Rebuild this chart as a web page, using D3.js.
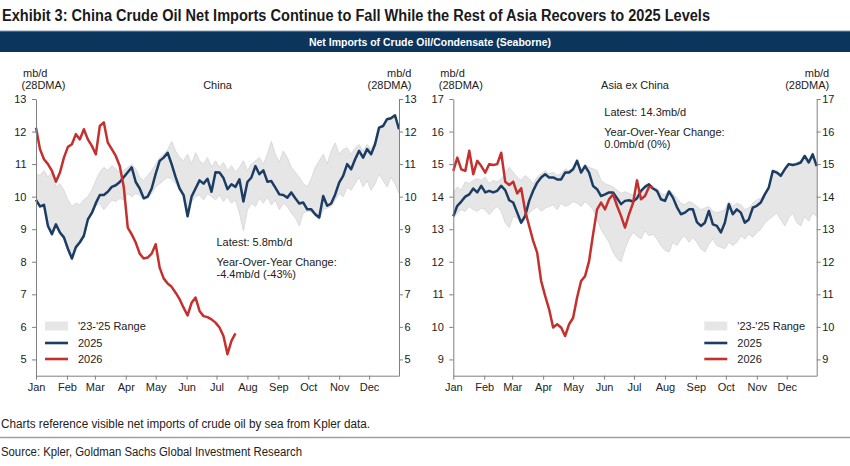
<!DOCTYPE html>
<html><head><meta charset="utf-8">
<script src="https://cdn.jsdelivr.net/npm/d3@7"></script>
<style>body{margin:0;background:#fff}svg{display:block}</style>
</head><body>
<svg id="c" width="850" height="466"></svg>
<script>
// ---------- DATA ----------
const STEP_DAYS = 4;             // sampling step of the series below (days from Jan 1)
const monthLabels = ["Jan","Feb","Mar","Apr","May","Jun","Jul","Aug","Sep","Oct","Nov","Dec"];
const chinaTicks = [5,6,7,8,9,10,11,12,13];
const asiaTicks = [9,10,11,12,13,14,15,16,17];

const china2025 = [9.9,9.7,9.75,9.1,8.85,9.15,8.9,8.75,8.4,8.1,
 8.45,8.6,8.8,9.3,9.5,9.8,10.05,10.05,10.15,10.3,
 10.35,10.45,10.6,10.75,10.9,10.45,10.25,9.95,10.0,10.25,
 10.7,11.1,11.2,11.35,11.0,10.6,10.25,10.05,9.4,10.0,
 10.25,10.5,10.4,10.55,10.15,10.75,10.74,10.57,10.23,10.38,
 10.3,10.53,9.85,10.45,10.59,10.94,10.69,10.81,10.46,10.48,
 10.28,10.07,10.05,9.97,10.13,9.95,9.79,9.82,9.61,9.61,
 9.46,9.36,10.02,9.72,9.79,10.07,10.43,10.64,11.0,10.84,
 11.15,11.41,11.2,11.46,11.3,11.61,12.12,12.17,12.38,12.41,
 12.5,12.07];
const china2026 = [12.12,11.46,11.15,11.0,10.79,10.46,10.74,11.2,11.53,11.61,
 11.92,11.76,12.07,11.76,11.56,11.3,12.17,12.28,11.66,11.46,
 11.25,10.94,10.3,9.05,8.84,8.59,8.25,8.1,8.13,8.25,
 8.54,7.82,7.49,7.33,7.23,7.05,6.85,6.59,6.35,6.74,
 6.9,6.49,6.33,6.3,6.23,6.13,5.98,5.72,5.16,5.57,5.8];
const chinaHigh = [10.7,10.65,10.8,10.6,10.75,10.3,10.4,10.2,9.9,9.7,
 9.8,9.75,9.9,10.0,10.2,10.5,10.75,10.9,10.8,10.95,
 10.85,10.75,10.8,10.9,11.0,10.85,10.6,10.5,10.65,10.8,
 11.0,11.2,11.3,11.45,11.7,11.4,11.2,11.1,11.3,11.0,
 11.35,11.1,11.0,11.2,10.9,11.1,10.9,11.05,10.8,10.95,
 10.75,10.9,11.1,10.8,11.0,11.1,11.2,11.0,11.3,11.7,
 11.3,11.05,11.4,11.2,10.9,10.75,10.6,10.4,10.3,10.55,
 10.9,11.1,11.3,11.0,11.4,11.65,11.3,11.45,11.5,11.3,
 11.5,11.6,11.4,11.6,11.45,11.7,12.15,12.2,12.4,12.45,
 12.5,12.1];
const chinaLow = [9.85,9.65,9.7,9.05,8.8,9.1,8.85,8.7,8.35,8.05,
 8.4,8.55,8.75,9.25,9.45,9.7,9.8,9.6,9.75,9.9,
 9.85,9.95,9.9,10.1,10.0,10.1,10.05,9.9,9.95,10.1,
 10.3,10.4,10.5,10.6,10.55,10.4,10.2,10.0,9.35,9.85,
 10.0,10.05,9.9,10.1,10.0,9.9,10.05,9.85,10.0,9.8,
 9.9,9.5,8.95,9.6,9.8,9.7,9.95,9.8,10.0,9.75,
 9.9,9.6,9.8,9.7,9.5,9.35,9.1,9.5,9.55,9.55,
 9.4,9.3,9.6,9.65,9.7,9.9,10.1,10.0,10.3,10.2,
 10.4,10.6,10.3,10.5,10.2,10.4,10.7,10.5,10.3,10.6,
 10.4,10.1];

const asia2025 = [13.4,13.72,13.85,14.0,14.07,14.25,14.13,14.33,14.13,14.18,
 14.13,14.18,14.33,14.2,13.89,13.82,13.51,13.2,13.41,13.87,
 14.18,14.43,14.59,14.69,14.59,14.59,14.53,14.53,14.74,14.74,
 14.84,15.1,14.74,14.94,14.74,14.33,14.23,14.02,14.07,14.13,
 14.13,13.95,13.77,13.87,13.89,13.85,13.95,14.18,14.3,14.38,
 14.25,14.18,13.92,13.87,14.16,13.97,13.68,13.46,13.51,13.61,
 13.61,13.22,13.1,13.2,13.56,13.15,13.1,12.9,13.2,13.77,
 13.46,13.61,13.51,13.2,13.3,13.66,13.72,13.82,14.07,14.28,
 14.79,14.74,14.64,14.84,15.0,14.97,15.0,15.05,15.25,15.05,
 15.3,14.94];
const asia2026 = [14.79,15.2,14.84,14.79,15.41,14.69,15.1,14.94,14.74,15.0,
 14.97,15.0,15.35,14.46,14.36,14.46,14.1,14.26,13.56,13.1,
 12.64,12.28,11.41,10.95,10.54,9.98,10.08,9.98,9.72,10.08,
 10.28,10.9,11.41,11.56,12.02,12.84,13.61,13.82,13.61,13.92,
 14.07,13.72,13.41,13.05,13.46,13.8,14.5,13.92,14.02,14.3,14.3];
const asiaHigh = [14.1,14.3,14.2,14.45,14.4,14.5,14.55,14.5,14.6,14.4,
 14.5,14.45,14.55,14.7,14.9,14.75,14.6,14.5,14.65,14.55,
 14.4,14.6,14.7,14.8,14.7,14.75,14.65,14.7,14.85,14.8,
 14.9,15.15,14.85,15.0,14.9,14.85,14.8,14.5,14.4,14.35,
 14.3,14.2,14.1,14.15,14.1,14.05,14.1,14.2,14.35,14.4,
 14.3,14.25,14.1,14.05,14.2,14.1,13.95,13.8,13.75,13.85,
 13.8,13.7,13.6,13.65,13.7,13.55,13.5,13.55,13.6,13.85,
 13.7,13.8,13.75,13.6,13.65,13.8,13.9,13.95,14.1,14.3,
 14.8,14.8,14.7,14.85,15.0,15.0,15.05,15.1,15.3,15.1,
 15.35,15.0];
const asiaLow = [13.35,13.5,13.6,13.55,13.7,13.6,13.55,13.65,13.6,13.45,
 13.6,13.7,13.55,13.2,13.05,13.4,13.35,13.15,13.3,13.5,
 13.6,13.7,13.55,13.65,13.7,13.75,13.6,13.8,13.7,13.75,
 13.85,13.8,13.7,13.85,13.75,13.6,13.3,13.0,12.8,12.6,
 12.3,12.1,12.0,12.4,12.7,12.9,12.8,12.7,12.95,12.8,
 12.85,12.7,12.5,12.35,12.3,12.6,12.5,12.7,12.8,12.6,
 12.75,12.6,12.4,12.3,12.55,12.7,12.5,12.45,12.4,12.6,
 12.5,12.6,12.8,12.7,12.85,12.75,12.9,13.0,13.2,13.3,
 13.4,13.5,13.3,13.1,13.35,13.5,13.2,13.1,13.4,13.25,
 13.5,13.4];

// ---------- DRAW ----------
const FONT = "'Liberation Sans', Arial, sans-serif";
const BLUE = "#1b3d63", RED = "#c4302e", BAND = "#e6e6e6", BAND_EDGE = "#dadada";
const jan1 = new Date(2025, 0, 1);
const dateAt = i => d3.timeDay.offset(jan1, i * STEP_DAYS);

const svg = d3.select("#c");
svg.append("rect").attr("width", 850).attr("height", 466).attr("fill", "#fff");

svg.append("text").attr("x", 2).attr("y", 21)
  .attr("font-family", FONT).attr("font-weight", "bold").attr("font-size", 16)
  .attr("fill", "#1a1a1a").attr("textLength", 708).attr("lengthAdjust", "spacingAndGlyphs")
  .text("Exhibit 3: China Crude Oil Net Imports Continue to Fall While the Rest of Asia Recovers to 2025 Levels");

svg.append("rect").attr("x", 0).attr("y", 31).attr("width", 850).attr("height", 21).attr("fill", "#0b355d");
svg.append("line").attr("x1", 0).attr("x2", 850).attr("y1", 31).attr("y2", 31).attr("stroke", "#8a9bb0").attr("stroke-width", 1);
svg.append("text").attr("x", 430).attr("y", 45.5).attr("text-anchor", "middle")
  .attr("font-family", FONT).attr("font-weight", "bold").attr("font-size", 10.5).attr("fill", "#fff")
  .text("Net Imports of Crude Oil/Condensate (Seaborne)");

function panel(o) {
  const g = svg.append("g");
  const x = d3.scaleTime().domain([jan1, new Date(2025, 11, 31)]).range([o.x0, o.x1]);
  const y = d3.scaleLinear().domain(o.yDomain).range([375.7, 99]);

  const band = o.low.map((lo, i) => ({ date: dateAt(i), lo, hi: o.high[i] }));
  g.append("path").datum(band).attr("fill", BAND)
    .attr("d", d3.area().x(d => x(d.date)).y0(d => y(d.lo)).y1(d => y(d.hi)));
  g.append("path").datum(band).attr("fill", "none").attr("stroke", BAND_EDGE).attr("stroke-width", 1)
    .attr("d", d3.line().x(d => x(d.date)).y(d => y(d.hi)));
  g.append("path").datum(band).attr("fill", "none").attr("stroke", BAND_EDGE).attr("stroke-width", 1)
    .attr("d", d3.line().x(d => x(d.date)).y(d => y(d.lo)));

  const line = d3.line().x(d => x(d.date)).y(d => y(d.v));
  g.append("path").datum(o.s2025.map((v, i) => ({ date: dateAt(i), v })))
    .attr("fill", "none").attr("stroke", BLUE).attr("stroke-width", 2.5).attr("stroke-linejoin", "round")
    .attr("d", line);
  g.append("path").datum(o.s2026.map((v, i) => ({ date: dateAt(i), v })))
    .attr("fill", "none").attr("stroke", RED).attr("stroke-width", 2.5).attr("stroke-linejoin", "round")
    .attr("d", line);

  // axes
  const months = d3.timeMonth.range(jan1, new Date(2026, 0, 1));
  const ax = g.append("g").attr("transform", "translate(0,375.7)")
    .call(d3.axisBottom(x).tickValues(months).tickFormat((d, i) => monthLabels[i]).tickSize(4).tickSizeOuter(0).tickPadding(4));
  const al = g.append("g").attr("transform", `translate(${o.x0},0)`)
    .call(d3.axisLeft(y).tickValues(o.ticks).tickSize(4).tickSizeOuter(0).tickPadding(5.5));
  const ar = g.append("g").attr("transform", `translate(${o.x1},0)`)
    .call(d3.axisRight(y).tickValues(o.ticks).tickSize(4).tickSizeOuter(0).tickPadding(1.5));
  [ax, al, ar].forEach(a => {
    a.selectAll("path,line").attr("stroke", "#808080").attr("stroke-width", 1);
    a.selectAll("text").attr("font-family", FONT).attr("font-size", 11).attr("fill", "#222");
  });

  const txt = (xx, yy, s, anchor) => g.append("text").attr("x", xx).attr("y", yy)
    .attr("font-family", FONT).attr("font-size", 11).attr("fill", "#222")
    .attr("text-anchor", anchor || "start").attr("dominant-baseline", "central").text(s);

  txt(o.x0 - 13, 72.7, "mb/d");
  txt(o.x0 - 14.5, 85, "(28DMA)");
  txt(o.x1 + 12.5, 72.7, "mb/d", "end");
  txt(o.x1 + 12.5, 85, "(28DMA)", "end");
  txt((o.x0 + o.x1) / 2, 85, o.title, "middle");

  txt(o.noteX, o.noteY, o.note[0]);
  txt(o.noteX, o.noteY + 20, "Year-Over-Year Change:");
  txt(o.noteX, o.noteY + 32, o.note[1]);

  // legend
  const lx = o.legX;
  g.append("rect").attr("x", lx).attr("y", 321.5).attr("width", 23).attr("height", 9).attr("fill", BAND);
  txt(lx + 33, 326, "'23-'25 Range");
  g.append("line").attr("x1", lx).attr("x2", lx + 23).attr("y1", 343).attr("y2", 343).attr("stroke", BLUE).attr("stroke-width", 2.6);
  txt(lx + 33, 343, "2025");
  g.append("line").attr("x1", lx).attr("x2", lx + 23).attr("y1", 359).attr("y2", 359).attr("stroke", RED).attr("stroke-width", 2.6);
  txt(lx + 33, 359, "2026");
}

panel({ x0: 36, x1: 399, yDomain: [4.5, 13], ticks: chinaTicks, title: "China",
  s2025: china2025, s2026: china2026, low: chinaLow, high: chinaHigh,
  noteX: 216.5, noteY: 241.7, note: ["Latest: 5.8mb/d", "-4.4mb/d (-43%)"], legX: 45 });
panel({ x0: 453.3, x1: 816.7, yDomain: [8.5, 17], ticks: asiaTicks, title: "Asia ex China",
  s2025: asia2025, s2026: asia2026, low: asiaLow, high: asiaHigh,
  noteX: 604.3, noteY: 111.7, note: ["Latest: 14.3mb/d", "0.0mb/d (0%)"], legX: 704.3 });

// footer
svg.append("text").attr("x", 1).attr("y", 428).attr("font-family", FONT).attr("font-size", 12).attr("fill", "#222")
  .attr("textLength", 369).attr("lengthAdjust", "spacingAndGlyphs")
  .text("Charts reference visible net imports of crude oil by sea from Kpler data.");
svg.append("line").attr("x1", 0).attr("x2", 850).attr("y1", 437.5).attr("y2", 437.5).attr("stroke", "#a0a0a0").attr("stroke-width", 1.5);
svg.append("text").attr("x", 1).attr("y", 456).attr("font-family", FONT).attr("font-size", 12).attr("fill", "#222")
  .attr("textLength", 301).attr("lengthAdjust", "spacingAndGlyphs")
  .text("Source: Kpler, Goldman Sachs Global Investment Research");
</script>
</body></html>
